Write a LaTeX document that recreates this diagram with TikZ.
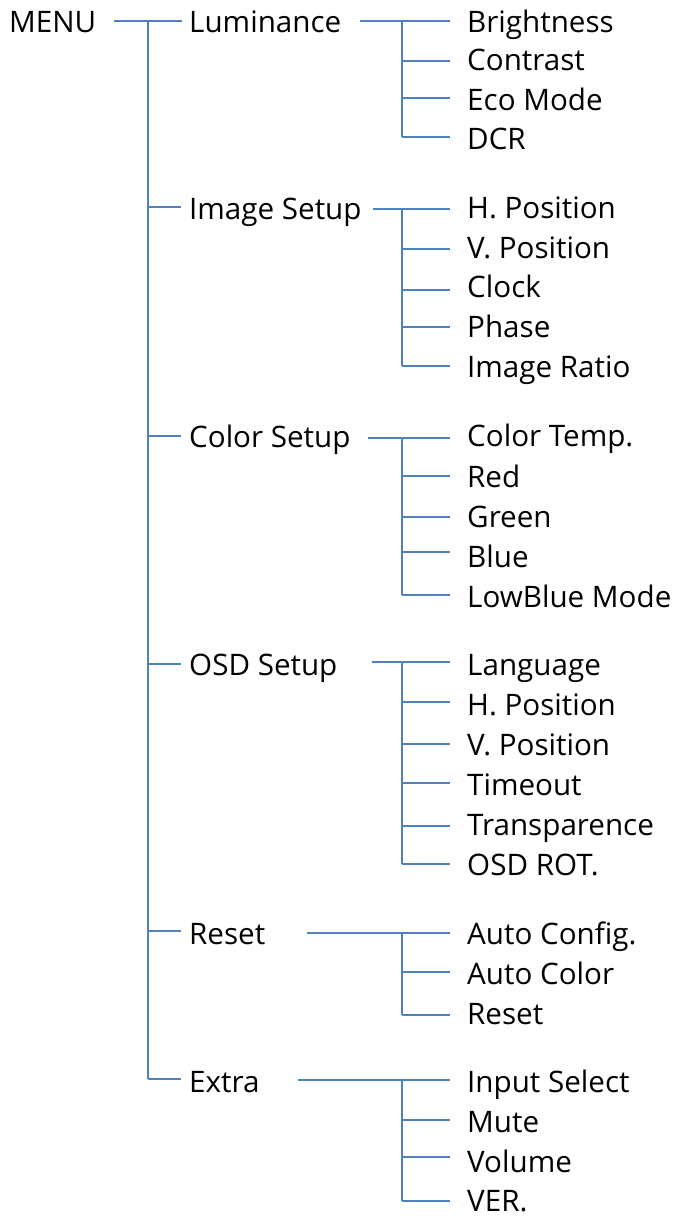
\documentclass[tikz,border=0pt]{standalone}
\usepackage{fontspec}
\setmainfont{Open Sans}
\definecolor{lineblue}{HTML}{4F81BD}
\begin{document}
\begin{tikzpicture}[x=1pt,y=-1pt,
  lbl/.style={anchor=base west,inner sep=0pt,font=\fontsize{29.6}{32}\selectfont},
  conn/.style={draw=lineblue,line width=2pt}]
\useasboundingbox (0,0) rectangle (679,1216);
% root
\node[lbl] (menu) at (9,32) {MENU};
\coordinate (menuout) at (114,21);
\coordinate (trunktop) at (148,21);
\coordinate (trunkbot) at (148,1079);
\draw[conn] (menuout) -- (182,21);
\draw[conn] (trunktop) -- (trunkbot);
% level 1 items: name/text/stub y/baseline/out x/line y
\foreach \n/\t/\sy/\b/\ox/\ly in {
  lum/Luminance/21/32/360/21,
  img/Image Setup/207/219/373/209,
  col/Color Setup/436/447/368/438,
  osd/OSD Setup/664/675/372/662,
  rst/Reset/931/944/307/933,
  ext/Extra/1079/1092/298/1080}{
  \node[lbl] (\n) at (189,\b) {\t};
  \coordinate (\n-t) at (148,\sy);
  \coordinate (\n-s) at (181,\sy);
  \coordinate (\n-o) at (\ox,\ly);
  \coordinate (\n-j) at (402,\ly);
  \draw[conn] (\n-o) -- (\n-j);
}
\foreach \n in {img,col,osd,rst,ext}{\draw[conn] (\n-t) -- (\n-s);}
% children: text / line y / baseline
\newcommand\kids[3]{%
  \foreach \t/\ly/\b [count=\i] in {#2}{%
    \node[lbl] (#1\i) at (467,\b) {\t};
    \coordinate (#1\i-j) at (402,\ly);
    \coordinate (#1\i-e) at (450,\ly);
    \draw[conn] (#1\i-j) -- (#1\i-e);
  }%
  \draw[conn] (#1-j) -- (#1#3-j);
}
\kids{lum}{Brightness/21/32, Contrast/61/70, Eco Mode/98/110, DCR/137/149}{4}
\kids{img}{H. Position/209/218, V. Position/249/258, Clock/290/297, Phase/327/337, Image Ratio/366/377}{5}
\kids{col}{Color Temp./438/446, Red/476/487, Green/517/527, Blue/552/567, LowBlue Mode/595/607}{5}
\kids{osd}{Language/662/675, H. Position/702/715, V. Position/744/755, Timeout/783/795, Transparence/826/835, OSD ROT./864/875}{6}
\kids{rst}{Auto Config./933/944, Auto Color/972/984, Reset/1015/1024}{3}
\kids{ext}{Input Select/1080/1092, Mute/1120/1132, Volume/1157/1172, VER./1201/1211}{4}
\end{tikzpicture}
\end{document}
